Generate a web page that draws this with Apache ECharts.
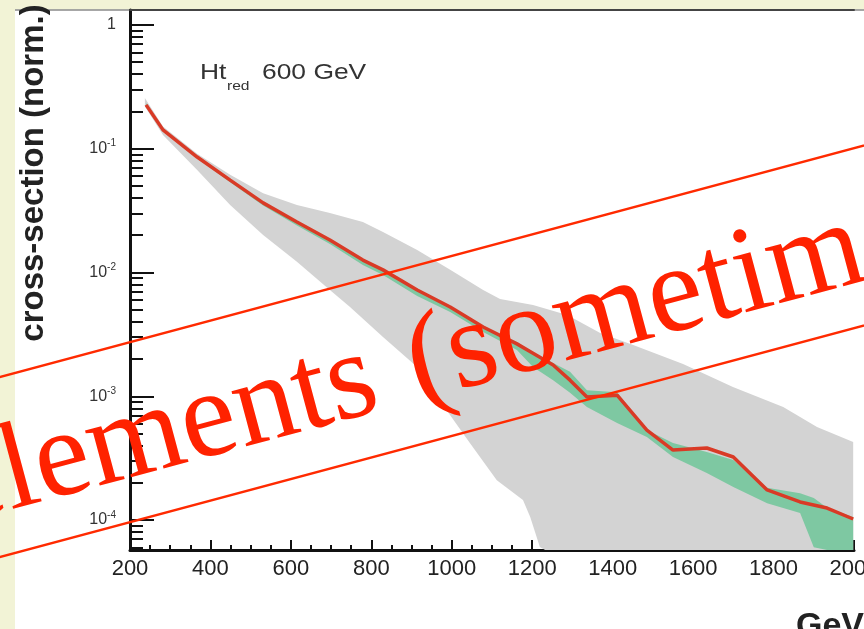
<!DOCTYPE html>
<html>
<head>
<meta charset="utf-8">
<script src="https://cdn.jsdelivr.net/npm/echarts@6/dist/echarts.min.js"></script>
<style>
  html, body { margin: 0; padding: 0; background: #ffffff; }
  #chart { width: 864px; height: 629px; }
</style>
</head>
<body>
<div id="chart"></div>
<script>
// Reduced-Ht spectrum, normalised cross-section vs. GeV

// x tick labels (GeV)
const xTickValues = [200, 400, 600, 800, 1000, 1200, 1400, 1600, 1800, 2000];
// decades labelled on the log axis
const yDecades = [1e-4, 1e-3, 1e-2, 1e-1, 1];

// central prediction (red line)
const redX = [240, 282, 367, 449, 531, 615, 697, 779, 829, 914, 996, 1078, 1162, 1202, 1252, 1294, 1336, 1411, 1485, 1550, 1634, 1700, 1784, 1866, 1933, 1998];
const redY = [0.226, 0.142, 0.0857, 0.0558, 0.0365, 0.0256, 0.0183, 0.0126, 0.0105, 0.00723, 0.00526, 0.00363, 0.00265, 0.00223, 0.00179, 0.00135, 0.000986, 0.00102, 0.000533, 0.000368, 0.000382, 0.000323, 0.000175, 0.000140, 0.000125, 0.000102];

// narrow uncertainty band (green)
const greenX  = [240, 282, 367, 449, 531, 615, 697, 779, 829, 914, 996, 1078, 1162, 1202, 1252, 1294, 1336, 1411, 1485, 1550, 1634, 1700, 1784, 1866, 1900, 1933, 1998];
const greenHi = [0.234, 0.1445, 0.0871, 0.0569, 0.0372, 0.0260, 0.0186, 0.0129, 0.0106, 0.00733, 0.00531, 0.00367, 0.00274, 0.00226, 0.00186, 0.00158, 0.00112, 0.00108, 0.000533, 0.000419, 0.000354, 0.000305, 0.000182, 0.000165, 0.000151, 0.000126, 0.000106];
const greenLo = [0.219, 0.138, 0.0832, 0.0537, 0.0347, 0.0240, 0.0170, 0.0115, 0.00955, 0.00646, 0.00479, 0.00331, 0.00237, 0.00172, 0.00135, 0.00107, 0.000818, 0.000608, 0.000469, 0.000323, 0.000240, 0.000185, 0.000137, 0.000114, 0.0000603, 0.0000251, 0.0000251];

// wide uncertainty band (grey), upper edge
const grayHiX = [237, 282, 367, 449, 531, 615, 697, 779, 829, 914, 996, 1078, 1120, 1202, 1287, 1369, 1451, 1575, 1699, 1824, 1908, 1998];
const grayHi  = [0.257, 0.151, 0.0912, 0.0617, 0.0437, 0.0351, 0.0303, 0.0256, 0.0212, 0.0152, 0.0105, 0.00723, 0.00611, 0.00546, 0.00453, 0.00324, 0.00259, 0.00182, 0.00119, 0.000818, 0.000565, 0.000427];
// wide uncertainty band (grey), lower edge
const grayLoX = [237, 282, 367, 449, 531, 615, 697, 747, 829, 914, 978, 1045, 1112, 1177, 1195, 1219, 1232, 1998];
const grayLo  = [0.219, 0.129, 0.0673, 0.0351, 0.0201, 0.0122, 0.00723, 0.00526, 0.00301, 0.00172, 0.000849, 0.000419, 0.000210, 0.000145, 0.000106, 0.0000605, 0.0000316, 0.0000316];

const Y_MIN = 5.73e-5;
const Y_MAX = 1.32;

// minor ticks of the log axis: 2..9 within every decade
const yMinor = [];
for (let e = -5; e <= 0; e++) {
  for (let k = 2; k <= 9; k++) {
    const v = k * Math.pow(10, e);
    if (v > Y_MIN && v < Y_MAX) yMinor.push(v);
  }
}

function bandSeries(xs, hi, loXs, lo, color, z) {
  return {
    type: 'custom',
    z: z,
    silent: true,
    data: [[xs[0], hi[0]]],
    renderItem: function (params, api) {
      const pts = [];
      for (let i = 0; i < xs.length; i++) {
        pts.push(api.coord([xs[i], Math.max(hi[i], Y_MIN)]));
      }
      for (let i = loXs.length - 1; i >= 0; i--) {
        pts.push(api.coord([loXs[i], Math.max(lo[i], Y_MIN)]));
      }
      return { type: 'polygon', shape: { points: pts }, style: { fill: color } };
    }
  };
}

const chart = echarts.init(document.getElementById('chart'), null, { renderer: 'canvas' });

const axisInk = '#111111';
const labelFont = '"Liberation Sans", Arial, sans-serif';
const stampAngle = 15 * Math.PI / 180;
const stampFont = '"Liberation Serif", "DejaVu Serif", serif';

const option = {
  animation: false,
  backgroundColor: '#ffffff',
  grid: { left: 130, top: 10, right: 10, bottom: 79, containLabel: false, outerBoundsMode: 'none' },
  xAxis: [
    {
      type: 'value', min: 200, max: 2000, interval: 200, position: 'bottom',
      axisLine: { show: true, onZero: false, lineStyle: { color: axisInk, width: 3 } },
      axisTick: { show: true, inside: true, length: 10, lineStyle: { color: axisInk, width: 2 } },
      minorTick: { show: true, splitNumber: 4, length: 5, lineStyle: { color: axisInk, width: 2 } },
      axisLabel: {
        margin: 8, fontSize: 22, color: '#222', fontFamily: labelFont,
        customValues: xTickValues,
        formatter: function (v) { return String(v); }
      },
      splitLine: { show: false }
    },
    {
      type: 'value', min: 200, max: 2000, position: 'top',
      axisLine: { show: true, onZero: false, lineStyle: { color: '#444', width: 2 } },
      axisTick: { show: false }, axisLabel: { show: false }, splitLine: { show: false }
    }
  ],
  yAxis: [
    {
      type: 'log', min: Y_MIN, max: Y_MAX, position: 'left',
      axisLine: { show: true, onZero: false, lineStyle: { color: axisInk, width: 3 } },
      axisTick: { show: true, inside: true, length: 13, customValues: yMinor, lineStyle: { color: axisInk, width: 2 } },
      axisLabel: { show: false },
      splitLine: { show: false }
    },
    {
      type: 'log', min: Y_MIN, max: Y_MAX, position: 'left',
      axisLine: { show: false },
      axisTick: { show: true, inside: true, length: 24, customValues: yDecades, lineStyle: { color: axisInk, width: 2 } },
      axisLabel: {
        customValues: yDecades, margin: 14,
        formatter: function (v) {
          const e = Math.round(Math.log10(v));
          return e === 0 ? '{b|1}' : '{b|10}{s|' + e + '}';
        },
        rich: {
          b: { fontSize: 16, color: '#333', fontFamily: labelFont, lineHeight: 20 },
          s: { fontSize: 10, color: '#333', fontFamily: labelFont, verticalAlign: 'top', lineHeight: 20 }
        }
      },
      splitLine: { show: false }
    }
  ],
  series: [
    bandSeries(grayHiX, grayHi, grayLoX, grayLo, '#d3d3d3', 2),
    bandSeries(greenX, greenHi, greenX, greenLo, '#7ec8a2', 3),
    {
      type: 'line', z: 4, silent: true,
      data: redX.map(function (x, i) { return [x, redY[i]]; }),
      showSymbol: false, symbol: 'none',
      lineStyle: { color: '#d93a26', width: 3.5 }
    }
  ],
  graphic: {
    elements: [
      // slide background strips
      { type: 'rect', z: -10, silent: true, shape: { x: 0, y: 0, width: 864, height: 9.5 }, style: { fill: '#f2f3d6' } },
      { type: 'rect', z: -10, silent: true, shape: { x: 0, y: 0, width: 15, height: 629 }, style: { fill: '#f2f3d6' } },
      { type: 'line', z: -9, silent: true, shape: { x1: 15, y1: 10, x2: 864, y2: 10 }, style: { stroke: '#8a8a8a', lineWidth: 1.5 } },
      // axis titles
      {
        type: 'text', z: 10, silent: true, x: 34, y: 173, rotation: Math.PI / 2,
        style: { text: 'cross-section (norm.)', font: 'bold 33px "Liberation Sans", Arial, sans-serif', fill: '#222',
                 textAlign: 'center', align: 'center', textVerticalAlign: 'middle', verticalAlign: 'middle' }
      },
      {
        type: 'text', z: 10, silent: true, x: 796, y: 627,
        style: { text: 'GeV', font: 'bold 34px "Liberation Sans", Arial, sans-serif', fill: '#222',
                 textAlign: 'left', align: 'left', textVerticalAlign: 'middle', verticalAlign: 'middle' }
      },
      // in-plot annotation
      {
        type: 'text', z: 10, silent: true, x: 200, y: 73, scaleX: 1.2,
        style: { text: 'Ht', font: '22px "Liberation Sans", Arial, sans-serif', fill: '#333',
                 textAlign: 'left', align: 'left', textVerticalAlign: 'middle', verticalAlign: 'middle' }
      },
      {
        type: 'text', z: 10, silent: true, x: 227, y: 86, scaleX: 1.2,
        style: { text: 'red', font: '13px "Liberation Sans", Arial, sans-serif', fill: '#333',
                 textAlign: 'left', align: 'left', textVerticalAlign: 'middle', verticalAlign: 'middle' }
      },
      {
        type: 'text', z: 10, silent: true, x: 262, y: 73, scaleX: 1.2,
        style: { text: '600 GeV', font: '22px "Liberation Sans", Arial, sans-serif', fill: '#333',
                 textAlign: 'left', align: 'left', textVerticalAlign: 'middle', verticalAlign: 'middle' }
      },
      // slanted red stamp over the plot
      {
        type: 'rect', z: 100, silent: true, x: 0, y: 467, rotation: stampAngle,
        shape: { x: -300, y: -87, width: 1600, height: 174 },
        style: { fill: 'none', stroke: '#ff2a00', lineWidth: 2.5 }
      },
      {
        type: 'text', z: 101, silent: true, x: -50.9, y: 492.2, rotation: stampAngle,
        style: { text: 'elements', font: '124px ' + stampFont, fill: '#ff2200',
                 textAlign: 'left', align: 'left', textVerticalAlign: 'middle', verticalAlign: 'middle' }
      },
      {
        type: 'text', z: 101, silent: true, x: 409.2, y: 368.9, rotation: stampAngle,
        style: { text: '(sometimes)', font: '124px ' + stampFont, fill: '#ff2200',
                 textAlign: 'left', align: 'left', textVerticalAlign: 'middle', verticalAlign: 'middle' }
      }
    ]
  }
};

chart.setOption(option);
</script>
</body>
</html>
